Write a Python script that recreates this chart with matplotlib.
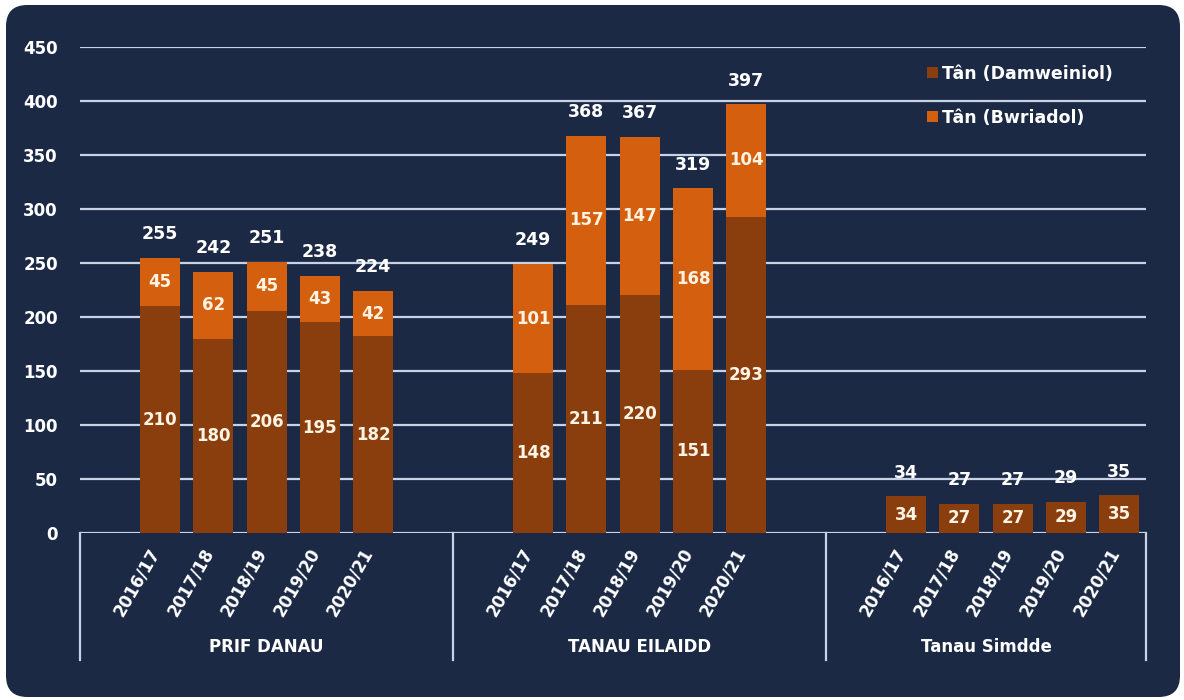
import numpy as np
import matplotlib.pyplot as plt
from matplotlib.patches import FancyBboxPatch, Patch
import matplotlib.transforms as mtransforms

plt.rcParams['font.family'] = ['DejaVu Sans']
plt.rcParams['font.weight'] = 'bold'

# --- data ---
years = ['2016/17', '2017/18', '2018/19', '2019/20', '2020/21']
groups = ['PRIF DANAU', 'TANAU EILAIDD', 'Tanau Simdde']
damweiniol = [210, 180, 206, 195, 182,
              148, 211, 220, 151, 293,
              34, 27, 27, 29, 35]
bwriadol = [45, 62, 45, 43, 42,
            101, 157, 147, 168, 104,
            0, 0, 0, 0, 0]
yticks = [0, 50, 100, 150, 200, 250, 300, 350, 400, 450]

NAVY = '#1b2945'
DARK = '#8a3d0d'
LIGHT = '#d4600f'
GRID = '#c8d2e6'
TXT = '#ffffff'

# slot positions: 5 bars per group, 2 empty slots between groups
xpos = np.array([0, 1, 2, 3, 4, 7, 8, 9, 10, 11, 14, 15, 16, 17, 18])
dam = np.array(damweiniol)
bwr = np.array(bwriadol)
totals = dam + bwr

fig = plt.figure(figsize=(11.84, 7), dpi=100, facecolor='white')
panel = FancyBboxPatch((6 / 1184, 3 / 700), 1174 / 1184, 692 / 700,
                       boxstyle='round,pad=0,rounding_size=0.018',
                       transform=fig.transFigure, facecolor=NAVY,
                       edgecolor='none', mutation_aspect=1184 / 700,
                       zorder=-5)
fig.patches.append(panel)

ax = fig.add_axes([80 / 1184, 1 - 533 / 700, 1066 / 1184, 486 / 700])
ax.set_facecolor('none')
for s in ax.spines.values():
    s.set_visible(False)

for v in yticks:
    ax.axhline(v, color=GRID, lw=1.6, zorder=0)

w = 0.75
ax.bar(xpos, dam, width=w, color=DARK, zorder=2)
ax.bar(xpos, bwr, width=w, bottom=dam, color=LIGHT, zorder=2)

for x, d, b, t in zip(xpos, dam, bwr, totals):
    ax.text(x, d / 2, str(d), ha='center', va='center', color='#fff4e4',
            fontsize=12, fontweight='bold', zorder=3)
    if b > 0:
        ax.text(x, d + b / 2, str(b), ha='center', va='center', color='#fff4e4',
                fontsize=12, fontweight='bold', zorder=3)
    ax.annotate(str(t), (x, t), xytext=(0, 17), textcoords='offset points',
                ha='center', va='center', color=TXT, fontsize=12.5,
                fontweight='bold', zorder=3)

ax.set_xlim(-1.5, 18.5)
ax.set_ylim(0, 450)
ax.set_yticks(yticks)
ax.tick_params(axis='y', length=0, pad=16, labelcolor=TXT, labelsize=12)
ax.set_xticks([])

trans = mtransforms.blended_transform_factory(ax.transData, ax.transAxes)
for x, lab in zip(xpos, years * 3):
    ax.text(x + 0.07, -0.025, lab, transform=trans, rotation=60,
            ha='right', va='top', color=TXT, fontsize=12, fontweight='bold')

for xs in [-1.5, 5.5, 12.5, 18.5]:
    ax.plot([xs, xs], [0, -0.262], transform=trans, color=GRID, lw=1.6,
            clip_on=False)
for xc, g in zip([2, 9, 15.5], groups):
    ax.text(xc, -0.235, g, transform=trans, ha='center', va='center',
            color=TXT, fontsize=12, fontweight='bold')

handles = [Patch(facecolor=DARK, label='Tân (Damweiniol)'),
           Patch(facecolor=LIGHT, label='Tân (Bwriadol)')]
leg = ax.legend(handles=handles, loc='upper left', bbox_to_anchor=(0.78, 0.995),
                frameon=False, handlelength=0.6, handleheight=0.6,
                handletextpad=0.25, labelspacing=1.5,
                prop={'size': 12.5, 'weight': 'bold'})
for t in leg.get_texts():
    t.set_color(TXT)

fig.savefig('out.png', dpi=100, facecolor='white')
